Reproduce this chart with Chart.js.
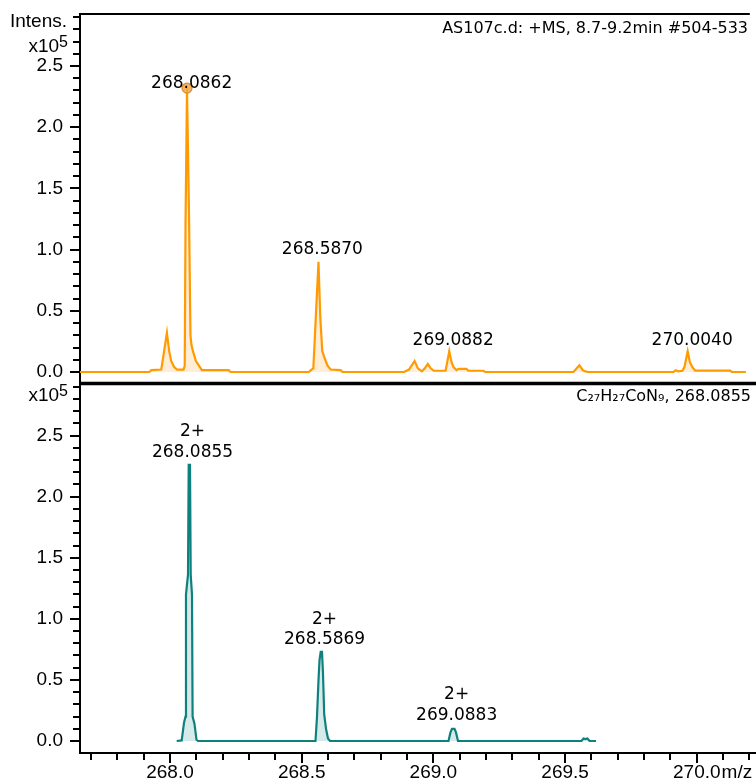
<!DOCTYPE html>
<html><head><meta charset="utf-8">
<script src="https://cdn.jsdelivr.net/npm/chart.js@4"></script>
<style>
html,body{margin:0;padding:0;background:#fff;}
#wrap{position:relative;width:756px;height:784px;overflow:hidden;background:#fff;}
#c1{position:absolute;left:0;top:0;width:756px;height:390px;}
#c2{position:absolute;left:0;top:378px;width:756px;height:406px;}
</style></head><body>
<div id="wrap"><canvas id="c1" width="756" height="390"></canvas><canvas id="c2" width="756" height="406"></canvas></div>
<script>
// ---- Data (m/z, intensity x10^5) ----
const measuredMz = [267.6583, 267.9241, 267.9317, 267.9696, 267.9791, 267.9913, 268.0000, 268.0076, 268.0190, 268.0304, 268.0550, 268.0596, 268.0626, 268.0683, 268.0759, 268.0816, 268.0854, 268.0911, 268.1025, 268.1177, 268.1253, 268.2278, 268.2354, 268.5353, 268.5429, 268.5524, 268.5619, 268.5721, 268.5790, 268.5866, 268.5961, 268.6074, 268.6188, 268.6568, 268.6644, 268.8998, 268.9188, 268.9282, 268.9404, 268.9529, 268.9681, 268.9795, 268.9909, 269.0023, 269.0137, 269.0592, 269.0733, 269.0820, 269.0896, 269.1010, 269.1086, 269.1390, 269.1466, 269.2035, 269.2111, 269.5490, 269.5718, 269.5850, 269.5945, 269.6059, 269.9324, 269.9419, 269.9514, 269.9666, 269.9742, 269.9867, 269.9951, 270.0046, 270.0159, 270.1488, 270.1564, 270.2096];
const measuredIntensity = [0, 0, 0.015, 0.02, 0.15, 0.32, 0.17, 0.09, 0.04, 0.02, 0.02, 0.05, 1.2, 2.32, 1.3, 0.3, 0.22, 0.17, 0.09, 0.04, 0.015, 0.015, 0, 0, 0.015, 0.03, 0.45, 0.9, 0.45, 0.17, 0.11, 0.05, 0.02, 0.015, 0, 0, 0.02, 0.05, 0.09, 0.03, 0.005, 0.03, 0.065, 0.03, 0.01, 0.01, 0.17, 0.08, 0.04, 0.015, 0.025, 0.025, 0.01, 0.01, 0, 0, 0.055, 0.015, 0.005, 0, 0, 0.015, 0.005, 0.01, 0.04, 0.17, 0.08, 0.04, 0.012, 0.012, 0, 0];
const simulatedMz = [268.0254, 268.0444, 268.0532, 268.0588, 268.0607, 268.0683, 268.0710, 268.0759, 268.0786, 268.0835, 268.0858, 268.0930, 268.1006, 268.1063, 268.5524, 268.5581, 268.5638, 268.5676, 268.5721, 268.5771, 268.5809, 268.5854, 268.5923, 268.5998, 268.6074, 269.0573, 269.0649, 269.0706, 269.0801, 269.0858, 269.0934, 269.5623, 269.5699, 269.5775, 269.5850, 269.5926, 269.6173];
const simulatedIntensity = [0, 0.005, 0.15, 0.2, 1.2, 1.36, 2.26, 2.26, 1.36, 1.2, 0.2, 0.14, 0.01, 0, 0, 0.2, 0.5, 0.66, 0.73, 0.73, 0.55, 0.22, 0.1, 0.02, 0, 0, 0.07, 0.1, 0.1, 0.07, 0, 0, 0.02, 0.015, 0.02, 0, 0];
const apexMz = [268.0683];
const apexIntensity = [2.32];
const measuredPeakLabels = ['268.0862', '268.5870', '269.0882', '270.0040'];
const measuredLabelY = [2.355, 0.997, 0.253, 0.253];
const simulatedPeakLabels = ['268.0855', '268.5869', '269.0883'];
const simulatedLabelY = [2.36, 0.832, 0.205];
const chargeLabels = ['2+', '2+', '2+'];
const chargeLabelY = [2.53, 0.996, 0.376];
const xRange = [267.6583, 270.2248];
const topYRange = [-0.0899, 2.925];
const bottomYRange = [-0.0982, 2.926];
const tickStep = 0.1;
const majorStep = 0.5;
const topTitle = 'AS107c.d: +MS, 8.7-9.2min #504-533';
const bottomTitle = 'C\u2082\u2087H\u2082\u2087CoN\u2089, 268.0855';
const yAxisTitle = 'Intens.';
const xAxisUnit = 'm/z';

const AX_FONT = "'Liberation Sans', Arial, sans-serif";
const LB_FONT = "'DejaVu Sans', sans-serif";
const ORANGE = '#FF9A00';
const TEAL = '#0E817E';

function pts(xs, ys) { return xs.map((x, i) => ({x: x, y: ys[i]})); }
function isMajor(v) { return Math.abs(v / majorStep - Math.round(v / majorStep)) < 1e-6; }

function drawTicks(chart, withX) {
  const ctx = chart.ctx, ca = chart.chartArea;
  ctx.save();
  ctx.strokeStyle = '#000';
  ctx.lineWidth = 2;
  const ys = chart.scales.y;
  ys.ticks.forEach(t => {
    const p = Math.round(ys.getPixelForValue(t.value));
    const len = isMajor(t.value) ? 10 : 7;
    ctx.beginPath(); ctx.moveTo(ca.left - len, p); ctx.lineTo(ca.left, p); ctx.stroke();
  });
  if (withX) {
    const xs = chart.scales.x;
    xs.ticks.forEach(t => {
      const p = Math.round(xs.getPixelForValue(t.value));
      const len = isMajor(t.value) ? 10 : 7;
      ctx.beginPath(); ctx.moveTo(p, ca.bottom); ctx.lineTo(p, ca.bottom + len); ctx.stroke();
    });
  }
  ctx.restore();
}

function drawX105(ctx, right, baseline) {
  ctx.save();
  ctx.fillStyle = '#000';
  ctx.textBaseline = 'alphabetic';
  ctx.font = '16px ' + AX_FONT;
  const w5 = ctx.measureText('5').width;
  ctx.textAlign = 'right';
  ctx.fillText('5', right, baseline - 5);
  ctx.font = '19px ' + AX_FONT;
  ctx.fillText('x10', right - w5, baseline);
  ctx.restore();
}

function drawPeakLabels(chart, texts, ys, xs) {
  const ctx = chart.ctx;
  ctx.save();
  ctx.fillStyle = '#000';
  ctx.font = '17px ' + LB_FONT;
  ctx.textAlign = 'center';
  ctx.textBaseline = 'middle';
  texts.forEach((t, i) => {
    const xv = xs ? xs[i] : parseFloat(t);
    ctx.fillText(t, chart.scales.x.getPixelForValue(xv), chart.scales.y.getPixelForValue(ys[i]));
  });
  ctx.restore();
}

function yScaleCfg(range) {
  return {
    type: 'linear', position: 'left', min: range[0], max: range[1],
    grid: {display: false, drawTicks: false, drawOnChartArea: false},
    border: {display: true, color: '#000', width: 2},
    ticks: {
      stepSize: tickStep, includeBounds: false, autoSkip: false, padding: 17,
      color: '#000', font: {family: AX_FONT, size: 19},
      callback: v => isMajor(v) ? v.toFixed(1) : ''
    },
    afterFit: s => { s.width = 80; s.paddingTop = 0; s.paddingBottom = 0; }
  };
}

const topPlugin = {
  id: 'topDecor',
  afterDraw(chart) {
    const ctx = chart.ctx, ca = chart.chartArea;
    drawTicks(chart, false);
    ctx.save();
    ctx.strokeStyle = '#000'; ctx.lineWidth = 2;
    ctx.beginPath(); ctx.moveTo(ca.left - 1, ca.top); ctx.lineTo(ca.right, ca.top); ctx.stroke();
    ctx.fillStyle = '#000';
    ctx.font = '19px ' + AX_FONT; ctx.textAlign = 'right'; ctx.textBaseline = 'alphabetic';
    ctx.fillText(yAxisTitle, 67, 27);
    ctx.font = '16px ' + LB_FONT; ctx.textAlign = 'right'; ctx.textBaseline = 'middle';
    ctx.fillText(topTitle, 748, 29);
    ctx.restore();
    drawX105(ctx, 68, 52);
    drawPeakLabels(chart, measuredPeakLabels, measuredLabelY);
  }
};

const bottomPlugin = {
  id: 'bottomDecor',
  afterDraw(chart) {
    const ctx = chart.ctx, ca = chart.chartArea;
    drawTicks(chart, true);
    ctx.save();
    ctx.strokeStyle = '#000'; ctx.lineWidth = 3.5;
    ctx.beginPath(); ctx.moveTo(ca.left - 1, ca.top); ctx.lineTo(ca.right, ca.top); ctx.stroke();
    ctx.fillStyle = '#000';
    ctx.font = '16px ' + LB_FONT; ctx.textAlign = 'right'; ctx.textBaseline = 'middle';
    ctx.fillText(bottomTitle, 751, 397 - 378);
    const xs = chart.scales.x;
    ctx.font = '19px ' + AX_FONT; ctx.textAlign = 'left'; ctx.textBaseline = 'middle';
    const lblW = ctx.measureText('270.0').width;
    ctx.fillText(xAxisUnit, xs.getPixelForValue(270.0) + lblW / 2 + 1, ca.bottom + 8 + 11.4);
    ctx.restore();
    drawX105(ctx, 68, 401 - 378);
    drawPeakLabels(chart, simulatedPeakLabels, simulatedLabelY);
    drawPeakLabels(chart, chargeLabels, chargeLabelY, simulatedPeakLabels.map(parseFloat));
  }
};

new Chart(document.getElementById('c1'), {
  type: 'line',
  data: {
    datasets: [
      {type: 'scatter', data: pts(apexMz, apexIntensity), pointRadius: 5, pointBackgroundColor: 'rgba(242,168,72,0.85)', pointBorderColor: 'rgb(222,138,40)', pointBorderWidth: 1.2, order: 0},
      {data: pts(measuredMz, measuredIntensity), borderColor: ORANGE, borderWidth: 2.2, backgroundColor: 'rgba(255,165,50,0.2)', fill: 'origin', pointRadius: 0, tension: 0, order: 1}
    ]
  },
  options: {
    responsive: false, animation: false, events: [],
    layout: {padding: {top: 14, bottom: 7, left: 0, right: 0}},
    plugins: {legend: {display: false}, tooltip: {enabled: false}},
    scales: {
      x: {type: 'linear', min: xRange[0], max: xRange[1], display: false},
      y: yScaleCfg(topYRange)
    }
  },
  plugins: [topPlugin]
});

new Chart(document.getElementById('c2'), {
  type: 'line',
  data: {
    datasets: [
      {data: pts(simulatedMz, simulatedIntensity), borderColor: TEAL, borderWidth: 2.2, backgroundColor: 'rgba(20,140,135,0.18)', fill: 'origin', pointRadius: 0, tension: 0}
    ]
  },
  options: {
    responsive: false, animation: false, events: [],
    layout: {padding: {top: 5.5, bottom: 0, left: 0, right: 0}},
    plugins: {legend: {display: false}, tooltip: {enabled: false}},
    scales: {
      x: {
        type: 'linear', position: 'bottom', min: xRange[0], max: xRange[1],
        grid: {display: false, drawTicks: false, drawOnChartArea: false},
        border: {display: true, color: '#000', width: 2},
        ticks: {
          stepSize: tickStep, includeBounds: false, autoSkip: false, maxRotation: 0, minRotation: 0, padding: 8,
          color: '#000', font: {family: AX_FONT, size: 19},
          callback: v => isMajor(v) ? v.toFixed(1) : ''
        },
        afterFit: s => { s.height = 31; s.paddingLeft = 0; s.paddingRight = 0; }
      },
      y: yScaleCfg(bottomYRange)
    }
  },
  plugins: [bottomPlugin]
});
</script>
</body></html>
